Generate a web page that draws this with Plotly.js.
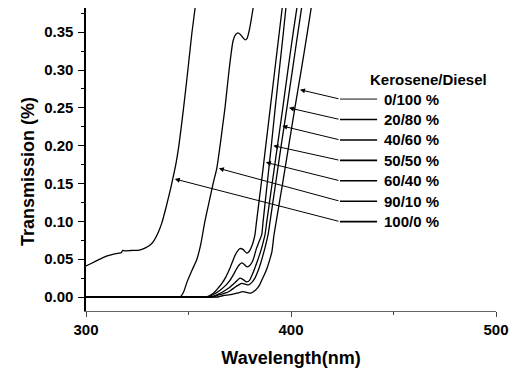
<!DOCTYPE html>
<html><head><meta charset="utf-8">
<script src="https://cdn.plot.ly/plotly-3.0.1.min.js"></script>
<style>html,body{margin:0;padding:0;background:#fff}#chart{width:513px;height:368px}</style>
</head><body><div id="chart"></div>
<script>
// ---- data ----
const seriesNames = ["0/100 %", "20/80 %", "40/60 %", "50/50 %", "60/40 %", "90/10 %", "100/0 %"];
const legendTitle = "Kerosene/Diesel";
const xTitle = "Wavelength(nm)";
const yTitle = "Transmission (%)";

const wl_0_100 = [300, 360, 364.4, 367, 370.2, 373.5, 376.6, 378.3, 380, 381.7, 383.4, 384.7, 385.9, 387.1, 388.3, 389.5, 390.7, 391.7, 392.8, 395.9, 398.9, 401.9, 405, 408, 410.3];
const T_0_100  = [0, 0, 0, 0.002, 0.003, 0.005, 0.007, 0.006, 0.005, 0.007, 0.011, 0.016, 0.023, 0.030, 0.038, 0.048, 0.060, 0.082, 0.10, 0.15, 0.20, 0.25, 0.30, 0.35, 0.39];

const wl_20_80 = [300, 358, 362, 365, 367.8, 370.2, 372.7, 374.5, 376, 377.6, 379.2, 380.8, 382.4, 383.7, 384.9, 386.1, 387.3, 388.8, 389.8, 392.5, 395.2, 398, 400.7, 403.4, 405.6];
const T_20_80  = [0, 0, 0, 0.003, 0.005, 0.008, 0.013, 0.016, 0.018, 0.017, 0.016, 0.019, 0.025, 0.033, 0.042, 0.053, 0.065, 0.082, 0.10, 0.15, 0.20, 0.25, 0.30, 0.35, 0.39];

const wl_40_60 = [300, 357, 360.5, 363, 365.4, 368, 370.2, 372.7, 375.1, 376.7, 378.4, 379.8, 381, 382.2, 383.4, 384.7, 385.9, 387.3, 388.2, 390.8, 393.4, 396, 398.5, 401.1, 403.3];
const T_40_60  = [0, 0, 0, 0.002, 0.005, 0.009, 0.013, 0.019, 0.025, 0.023, 0.020, 0.022, 0.029, 0.037, 0.046, 0.056, 0.067, 0.082, 0.10, 0.15, 0.20, 0.25, 0.30, 0.35, 0.39];

const wl_50_50 = [300, 356, 359.5, 362, 365.4, 368, 370.2, 372, 373.2, 374.6, 376, 377.2, 378.4, 379.6, 381, 382, 382.9, 384.4, 385.7, 386.4, 388.4, 390.4, 392.3, 394.3, 396.3, 398];
const T_50_50  = [0, 0, 0, 0.003, 0.009, 0.015, 0.022, 0.030, 0.036, 0.042, 0.045, 0.043, 0.040, 0.041, 0.046, 0.053, 0.062, 0.073, 0.082, 0.10, 0.15, 0.20, 0.25, 0.30, 0.35, 0.395];

const wl_60_40 = [300, 355, 358.5, 361, 362.9, 364.5, 366.3, 368.3, 370.2, 371.5, 372.7, 374, 375.1, 376.6, 377.6, 378.4, 379.2, 380, 381, 381.8, 382.4, 383.2, 385.5, 387.7, 389.9, 392.1, 394.3, 396.5];
const T_60_40  = [0, 0, 0, 0.003, 0.007, 0.012, 0.018, 0.027, 0.038, 0.047, 0.055, 0.061, 0.064, 0.063, 0.060, 0.058, 0.059, 0.062, 0.068, 0.075, 0.082, 0.10, 0.15, 0.20, 0.25, 0.30, 0.35, 0.40];

const wl_90_10 = [300, 340, 345.9, 347.5, 349.3, 351.5, 354.1, 356, 358, 360, 362, 363.8, 365.4, 366.6, 367.8, 368.8, 369.8, 370.8, 371.7, 372.8, 374.1, 375.3, 376.5, 377.6, 378.6, 379.6, 380.5, 381.4, 382];
const T_90_10  = [0, 0, 0, 0.006, 0.020, 0.034, 0.050, 0.070, 0.100, 0.125, 0.150, 0.170, 0.200, 0.225, 0.250, 0.275, 0.300, 0.322, 0.338, 0.346, 0.349, 0.347, 0.343, 0.340, 0.342, 0.352, 0.365, 0.380, 0.390];

const wl_100_0 = [300, 303, 306, 310, 314, 316, 317.2, 317.8, 319, 322, 326, 329, 331, 333, 335, 337, 339, 341, 342.4, 344, 345.3, 347.6, 349.7, 351.7, 353.6];
const T_100_0  = [0.041, 0.045, 0.049, 0.054, 0.057, 0.058, 0.0585, 0.0615, 0.061, 0.0615, 0.062, 0.065, 0.068, 0.074, 0.084, 0.098, 0.118, 0.140, 0.157, 0.178, 0.200, 0.250, 0.300, 0.350, 0.390];

// arrow-tip transmission levels for each label (same order as seriesNames)
const tipLevels = [0.274, 0.250, 0.226, 0.200, 0.178, 0.170, 0.156];

// ---- build ----
const X = [wl_0_100, wl_20_80, wl_40_60, wl_50_50, wl_60_40, wl_90_10, wl_100_0];
const Y = [T_0_100, T_20_80, T_40_60, T_50_50, T_60_40, T_90_10, T_100_0];

const FONT = "Liberation Sans, Arial, Helvetica, sans-serif";
const traces = X.map((x, i) => ({
  type: 'scatter', mode: 'lines', x: x, y: Y[i], name: seriesNames[i],
  line: {color: '#000', width: 1.3, shape: 'spline', smoothing: 0.6},
  showlegend: false, hoverinfo: 'skip'
}));

function wlAt(x, y, t) {
  for (let k = 1; k < y.length; k++) {
    if (y[k] >= t && y[k-1] < t) {
      return x[k-1] + (t - y[k-1]) / (y[k] - y[k-1]) * (x[k] - x[k-1]);
    }
  }
  return x[x.length-1];
}

const rowTop = 0.2616, rowStep = 0.0270;
const tailX = 423.9, segEnd = 442.0, textX = 444.2;
const annotations = [];
const shapes = [];
seriesNames.forEach((name, i) => {
  const ry = rowTop - i * rowStep;
  const tipX = wlAt(X[i], Y[i], tipLevels[i]) + 1.0;
  annotations.push({
    x: tipX, y: tipLevels[i], xref: 'x', yref: 'y',
    ax: tailX, ay: ry, axref: 'x', ayref: 'y',
    showarrow: true, arrowhead: 2, arrowsize: 1.0, arrowwidth: 1, arrowcolor: '#000',
    standoff: 0, startstandoff: 0, text: ''
  });
  shapes.push({type: 'line', xref: 'x', yref: 'y', x0: tailX, x1: segEnd, y0: ry, y1: ry,
    line: {color: i === 0 ? '#777' : '#000', width: 1.6}});
  annotations.push({
    x: textX, y: ry, xref: 'x', yref: 'y', xanchor: 'left', yanchor: 'middle',
    text: name, showarrow: false,
    font: {family: FONT, size: 15, color: '#000', weight: 'bold'}
  });
});
annotations.push({
  x: 467.1, y: 0.288, xref: 'x', yref: 'y', xanchor: 'center', yanchor: 'middle',
  text: legendTitle, showarrow: false,
  font: {family: FONT, size: 15, color: '#000', weight: 'bold'}
});
// y-axis title placed as a rotated label (positioned slightly below the axis centre, as in the reference)
annotations.push({
  x: -0.1415, y: 0.462, xref: 'paper', yref: 'paper', xanchor: 'center', yanchor: 'middle',
  text: yTitle, textangle: -90, showarrow: false,
  font: {family: FONT, size: 18, color: '#000', weight: 'bold'}
});

const layout = {
  width: 513, height: 368,
  margin: {l: 86, r: 17, t: 8, b: 57},
  paper_bgcolor: '#fff', plot_bgcolor: '#fff',
  showlegend: false,
  font: {family: FONT, color: '#000'},
  xaxis: {
    range: [300, 500], tickvals: [300, 400, 500], ticktext: ['300', '400', '500'],
    showgrid: false, zeroline: false, showline: true, linecolor: '#666', linewidth: 1,
    ticks: 'outside', ticklen: 5, tickwidth: 1, tickcolor: '#444',
    minor: {ticks: 'outside', ticklen: 3, tickvals: [350, 450], tickcolor: '#444', showgrid: false},
    tickfont: {family: FONT, size: 15, color: '#000', weight: 'bold'},
    title: {text: xTitle, font: {family: FONT, size: 18, color: '#000', weight: 'bold'}},
    automargin: false
  },
  yaxis: {
    range: [-0.0185, 0.382], tickvals: [0, 0.05, 0.10, 0.15, 0.20, 0.25, 0.30, 0.35],
    ticktext: ['0.00', '0.05', '0.10', '0.15', '0.20', '0.25', '0.30', '0.35'],
    showgrid: false, zeroline: false, showline: true, linecolor: '#000', linewidth: 1.6,
    ticks: 'outside', ticklen: 6, tickwidth: 1, tickcolor: '#000',
    minor: {ticks: 'outside', ticklen: 3, tickvals: [0.025, 0.075, 0.125, 0.175, 0.225, 0.275, 0.325, 0.375], tickcolor: '#000', showgrid: false},
    tickfont: {family: FONT, size: 15, color: '#000', weight: 'bold'},
    ticklabelstandoff: 2,
    title: {text: ''},
    automargin: false
  },
  annotations: annotations,
  shapes: shapes
};

Plotly.newPlot('chart', traces, layout, {displayModeBar: false, staticPlot: true});
</script>
</body></html>
